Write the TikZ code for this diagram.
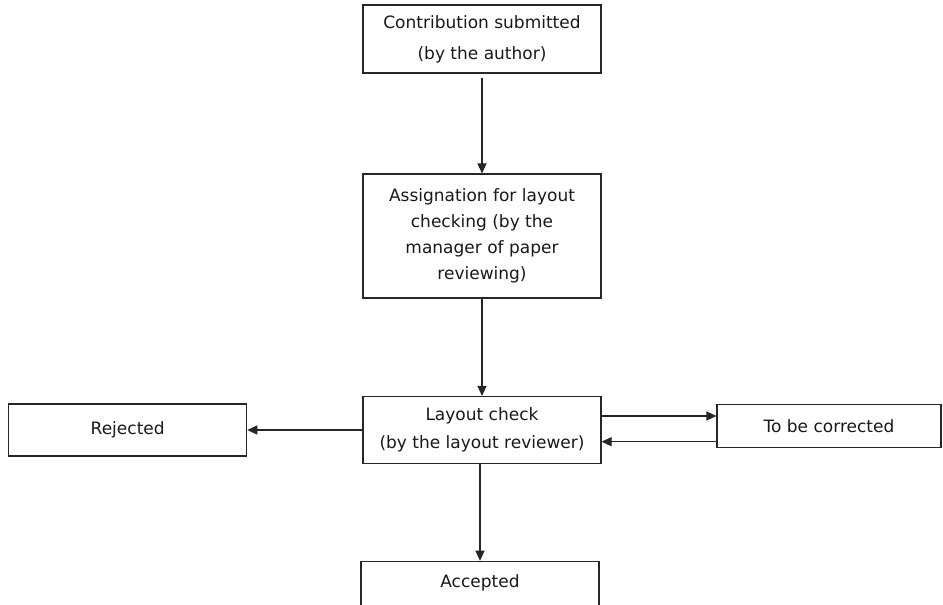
\documentclass[tikz,border=0pt]{standalone}
\usepackage{fontspec}
\setmainfont{DejaVu Sans}
\usetikzlibrary{arrows.meta}
\begin{document}
\begin{tikzpicture}[x=1pt,y=-1pt,
  box/.style={draw=black!85, line width=1.1pt, fill=white, align=center, inner sep=0pt, text=black!90,
     font=\fontsize{17}{28}\selectfont},
  arr/.style={draw=black!85, line width=1.1pt, -{Triangle[length=10pt,width=9pt]}}]
\useasboundingbox (0,0) rectangle (943,605);
\clip (0,0) rectangle (943,605);
\fill[white] (0,0) rectangle (943,605);
\node[box, minimum width=238pt, minimum height=68pt, font=\fontsize{17}{31}\selectfont] (b1) at (482,39) {Contribution submitted\\(by the author)};
\node[box, minimum width=238pt, minimum height=124pt, font=\fontsize{17}{26}\selectfont] (b2) at (482,236) {Assignation for layout\\checking (by the\\manager of paper\\reviewing)};
\node[box, minimum width=238pt, minimum height=67pt] (b3) at (482,430) {Layout check\\(by the layout reviewer)};
\node[box, minimum width=224pt, minimum height=43pt] (tbc) at (829,425.8) {To be corrected};
\node[box, minimum width=238pt, minimum height=52pt] (rej) at (127.7,430) {Rejected};
\node[box, anchor=north, minimum width=238pt, text height=12.4pt, text depth=60pt, inner ysep=13.9pt, inner xsep=0pt] (acc) at (480,560.7) {Accepted};
\draw[arr, shorten <=4pt] (b1.south) -- (b2.north);
\draw[arr] (b2.south) -- (b3.north);
\draw[arr] (acc.north |- b3.south) -- (acc.north);
\draw[arr] ([yshift=14pt]b3.east) -- ([yshift=9.8pt]tbc.west);
\draw[arr] ([yshift=-15.9pt]tbc.west) -- ([yshift=-11.7pt]b3.east);
\draw[arr] (b3.west) -- (rej.east);
\end{tikzpicture}
\end{document}
